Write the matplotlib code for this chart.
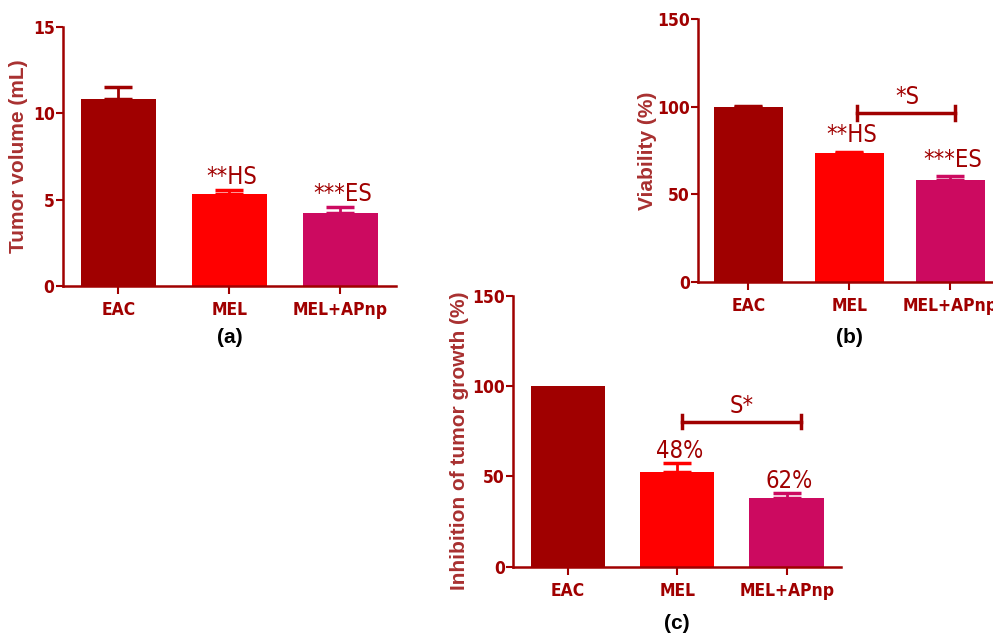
import matplotlib
matplotlib.use("Agg")
import matplotlib.pyplot as plt
from matplotlib import font_manager

# data
groups = ["EAC", "MEL", "MEL+APnp"]
bar_colors = ["#A00000", "#FF0000", "#CC0A60"]

tumor_volume = [10.83, 5.33, 4.24]
tumor_volume_err = [0.7, 0.23, 0.33]
tumor_volume_marks = ["", "**HS", "***ES"]

viability = [99.8, 73.9, 58.2]
viability_err = [0.7, 0.6, 2.5]
viability_marks = ["", "**HS", "***ES"]

inhibition = [100.0, 52.6, 38.2]
inhibition_err = [0.0, 4.9, 2.4]
inhibition_marks = ["", "48%", "62%"]

axis_col = "#A00000"
label_col = "#A83030"

# pick a narrow font for ticks / marks (the original uses Arial Narrow)
names = {f.name for f in font_manager.fontManager.ttflist}
condensed = any(f.name == "DejaVu Sans" and f.stretch == "condensed"
                for f in font_manager.fontManager.ttflist)
if "Liberation Sans Narrow" in names:
    narrow = dict(family="Liberation Sans Narrow")
elif condensed:
    narrow = dict(family="DejaVu Sans", stretch="condensed")
else:
    narrow = dict(family="Liberation Sans")

fig = plt.figure(figsize=(9.93, 6.34), dpi=100)


def panel(rect, values, errs, marks, ymax, yticks, ylabel, lab_xy, tag, tag_y, mark_off):
    ax = fig.add_axes(rect)
    ax.patch.set_visible(False)
    x = range(len(groups))
    ax.bar(x, values, width=0.68, color=bar_colors, zorder=2)
    for i in x:
        if errs[i] > 0:
            ax.errorbar(i, values[i], yerr=[[0], [errs[i]]], color=bar_colors[i],
                        capsize=10, elinewidth=2, capthick=2.5, zorder=3)
        if marks[i]:
            ax.annotate(marks[i], (i, values[i] + errs[i]), xytext=(2, mark_off),
                        textcoords="offset points", ha="center", va="bottom",
                        fontsize=17, color=axis_col, **narrow)
    ax.set_xlim(-0.5, 2.5)
    ax.set_ylim(0, ymax)
    ax.set_yticks(yticks)
    ax.set_xticks(list(x))
    ax.set_xticklabels(groups)
    for s in ["top", "right"]:
        ax.spines[s].set_visible(False)
    for s in ["left", "bottom"]:
        ax.spines[s].set_color(axis_col)
        ax.spines[s].set_linewidth(1.8)
    ax.tick_params(axis="both", colors=axis_col, width=1.5)
    ax.tick_params(axis="y", length=5, pad=1)
    ax.tick_params(axis="x", length=6, pad=5)
    for lab in ax.get_xticklabels() + ax.get_yticklabels():
        lab.set_fontproperties(font_manager.FontProperties(weight="bold", size=12.5, **narrow))
        lab.set_color(axis_col)
    ax.set_ylabel(ylabel, fontsize=15, fontweight="bold", color=label_col,
                  family="Liberation Sans")
    ax.yaxis.set_label_coords(*lab_xy)
    ax.text(0.5, tag_y, tag, transform=ax.transAxes, ha="center",
            va="center", fontsize=15, fontweight="bold", color="black", family="Liberation Sans")
    return ax


def bracket(ax, x0, x1, y, cap, text, tx):
    ax.plot([x0, x1], [y, y], color=axis_col, lw=2.5, zorder=3)
    ax.plot([x0, x0], [y - cap, y + cap], color=axis_col, lw=2.5, zorder=3)
    ax.plot([x1, x1], [y - cap, y + cap], color=axis_col, lw=2.5, zorder=3)
    ax.annotate(text, (tx, y), xytext=(0, 3), textcoords="offset points",
                ha="center", va="bottom", fontsize=17, color=axis_col, **narrow)


# (a) tumor volume
panel([0.0634, 0.5489, 0.3353, 0.4085], tumor_volume, tumor_volume_err, tumor_volume_marks,
      15, [0, 5, 10, 15], "Tumor volume (mL)", (-0.105, 0.5), "(a)", -0.2, 1)

# (b) viability
axb = panel([0.7029, 0.5552, 0.3051, 0.4144], viability, viability_err, viability_marks,
            150, [0, 50, 100, 150], "Viability (%)", (-0.135, 0.5), "(b)", -0.21, 3)
bracket(axb, 1.07, 2.05, 96.3, 4.0, "*S", 1.57)

# (c) inhibition of tumor growth
axc = panel([0.5166, 0.1062, 0.3308, 0.4274], inhibition, inhibition_err, inhibition_marks,
            150, [0, 50, 100, 150], "Inhibition of tumor growth (%)", (-0.135, 0.465), "(c)", -0.21, 0)
bracket(axc, 1.04, 2.13, 80.2, 3.7, "S*", 1.59)

fig.savefig("out.png", dpi=100)
